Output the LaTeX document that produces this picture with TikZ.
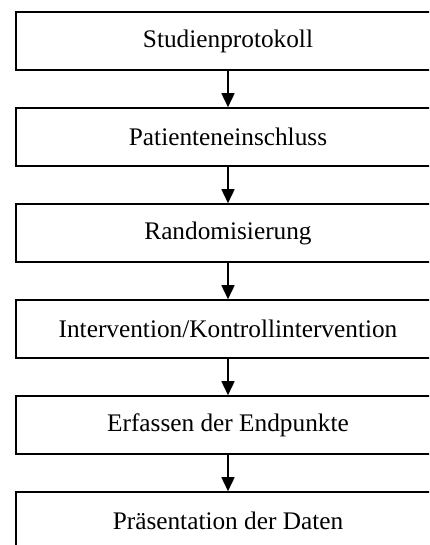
\documentclass[tikz,border=0pt]{standalone}
\usepackage{fontspec}
\setmainfont{Liberation Serif}
\usetikzlibrary{arrows.meta,positioning}

\begin{document}
\begin{tikzpicture}
	% Styles
	[
	x=1pt,y=-1pt,
	stepbox/.style={rectangle,draw=black,line width=1.6pt,inner sep=0pt,minimum width=424pt,minimum height=58pt,font=\fontsize{25.3}{30}\selectfont},
	flow/.style={line width=1.6pt,-{Triangle[length=14pt,width=13pt]}},
	]

	% Frame
	\path[use as bounding box,clip] (0,0) rectangle (429,545);

	% Nodes
	\node at (228,41)	(protokoll)	[stepbox]	{Studienprotokoll};
	\node at (228,137)	(einschluss)	[stepbox]	{Patienteneinschluss};
	\node at (228,233)	(random)	[stepbox]	{Randomisierung};
	\node at (228,329)	(intervention)	[stepbox]	{Intervention/Kontrollintervention};
	\node at (228,425)	(endpunkte)	[stepbox]	{Erfassen der Endpunkte};
	\node at (228,521)	(daten)	[stepbox]	{Präsentation der Daten};

	% Arrows
	\draw[flow] (protokoll) -- (einschluss);
	\draw[flow] (einschluss) -- (random);
	\draw[flow] (random) -- (intervention);
	\draw[flow] (intervention) -- (endpunkte);
	\draw[flow] (endpunkte) -- (daten);
\end{tikzpicture}
\end{document}
